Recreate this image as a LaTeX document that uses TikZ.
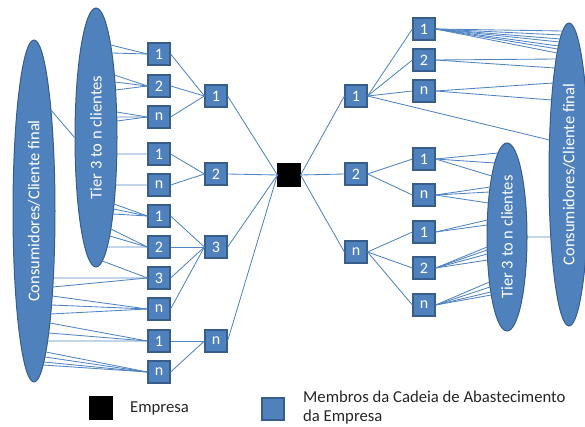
\documentclass[tikz,border=0pt]{standalone}
\usepackage{fontspec}
\setmainfont{Carlito}
\usetikzlibrary{shapes.geometric}
\definecolor{cellfill}{RGB}{79,129,189}
\definecolor{celledge}{RGB}{56,93,138}
\definecolor{wirec}{RGB}{80,132,195}
% spokes from the right-hand rim of ellipse #1 (radii #2, #3) to node #4,
% one for each vertical offset (downwards from the centre) in #5
\newcommand\spokesR[5]{\foreach \d in {#5}{\draw[wire] (#1.center) ++({asin(\d/#3)}:#2 and #3) -- (#4.west);}}
% the same, from the left-hand rim to the east side of node #4
\newcommand\spokesL[5]{\foreach \d in {#5}{\draw[wire] (#1.center) ++({180-asin(\d/#3)}:#2 and #3) -- (#4.east);}}
\begin{document}
\begin{tikzpicture}[x=1pt,y=-1pt,
  cell/.style={rectangle,draw=celledge,fill=cellfill,line width=1.2pt,minimum size=22pt,inner sep=0pt,
    text=white,font=\fontsize{16}{18}\selectfont},
  oval/.style={ellipse,draw=celledge,fill=cellfill,line width=1pt,inner sep=0pt},
  ovaltext/.style={rotate=90,text=white,font=\fontsize{16.5}{19}\selectfont},
  wire/.style={draw=wirec,line width=0.85pt},
  legend/.style={font=\fontsize{16.7}{19}\selectfont,text=black!85}]
\useasboundingbox (0,0) rectangle (585,427);

% ---- customer groups
\node[oval,minimum width=42pt,minimum height=342pt] (consL) at (34,211) {};
\node[ovaltext] (consLt) at (consL.center) {Consumidores/Cliente final};
\node[oval,minimum width=42pt,minimum height=259pt] (tierL) at (96,137.5) {};
\node[ovaltext] (tierLt) at (tierL.center) {Tier 3 to n clientes};
\node[oval,minimum width=40pt,minimum height=303pt] (consR) at (569,174.5) {};
\node[ovaltext] (consRt) at (consR.center) {Consumidores/Cliente final};
\node[oval,minimum width=40pt,minimum height=188pt] (tierR) at (507,237) {};
\node[ovaltext] (tierRt) at (tierR.center) {Tier 3 to n clientes};

% ---- left-hand tier of members
\node[cell] (la1) at (159,54) {1};
\node[cell] (la2) at (159,86) {2};
\node[cell] (la3) at (159,117) {n};
\node[cell] (la4) at (159,154) {1};
\node[cell] (la5) at (159,185) {n};
\node[cell] (la6) at (159,216) {1};
\node[cell] (la7) at (159,247) {2};
\node[cell] (la8) at (159,278) {3};
\node[cell] (la9) at (159,309) {n};
\node[cell] (la10) at (159,341) {1};
\node[cell] (la11) at (159,372) {n};

\node[cell] (l21) at (216,96) {1};
\node[cell] (l22) at (216,174) {2};
\node[cell] (l23) at (216,247) {3};
\node[cell] (l2n) at (216,341) {n};

% ---- the company
\node[cell,fill=black,draw=black] (emp) at (289,175) {};

% ---- right-hand tier of members
\node[cell] (r21) at (356,96) {1};
\node[cell] (r22) at (356,174) {2};
\node[cell] (r2n) at (356,252) {n};

\node[cell] (r3a) at (424,29) {1};
\node[cell] (r3b) at (424,60) {2};
\node[cell] (r3c) at (424,91) {n};
\node[cell] (r3d) at (424,159) {1};
\node[cell] (r3e) at (424,195) {n};
\node[cell] (r3f) at (424,232) {1};
\node[cell] (r3g) at (424,268) {2};
\node[cell] (r3h) at (424,305) {n};

% ---- links between members
\foreach \a in {la1,la2,la3} \draw[wire] (\a.east) -- (l21.west);
\foreach \a in {la4,la5} \draw[wire] (\a.east) -- (l22.west);
\foreach \a in {la6,la7,la8,la9} \draw[wire] (\a.east) -- (l23.west);
\foreach \a in {la10,la11} \draw[wire] (\a.east) -- (l2n.west);
\foreach \a in {l21,l22,l23,l2n} \draw[wire] (\a.east) -- (emp.west);
\foreach \a in {r21,r22,r2n} \draw[wire] (emp.east) -- (\a.west);
\foreach \a in {r3a,r3b,r3c} \draw[wire] (r21.east) -- (\a.west);
\foreach \a in {r3d,r3e} \draw[wire] (r22.east) -- (\a.west);
\foreach \a in {r3f,r3g,r3h} \draw[wire] (r2n.east) -- (\a.west);

% ---- links to the customer groups, left
\draw[wire] (consL.center) ++({asin(-101/171)}:21 and 171) -- (tierL.west);
\spokesR{tierL}{21}{129.5}{la1}{-92.5,-84.5}
\spokesR{tierL}{21}{129.5}{la2}{-62.5,-55.5,-47.5}
\spokesR{tierL}{21}{129.5}{la3}{-25.5,-20.5,-16.5}
\spokesR{tierL}{21}{129.5}{la4}{16.5}
\spokesR{tierL}{21}{129.5}{la5}{47.5}
\spokesR{tierL}{21}{129.5}{la6}{66.5,71.5,76.5}
\spokesR{tierL}{21}{129.5}{la7}{91.5,98.5,109.5}
\spokesR{tierL}{21}{129.5}{la8}{123.5}
\spokesR{consL}{21}{171}{la8}{67,76}
\spokesR{consL}{21}{171}{la9}{85,94,103}
\spokesR{consL}{21}{171}{la10}{112,122,130}
\spokesR{consL}{21}{171}{la11}{141,146,151,154}

% ---- links to the customer groups, right
\draw[wire] (consR.center) ++({180-asin(62.5/151.5)}:20 and 151.5) -- (tierR.east);
\spokesL{consR}{20}{151.5}{r3a}{-143.5,-139.5,-135.5,-132.5,-128.5,-125.5,-121.5}
\spokesL{consR}{20}{151.5}{r3b}{-115.5,-106.5}
\spokesL{consR}{20}{151.5}{r3c}{-91.5,-74.5}
\spokesL{consR}{20}{151.5}{r21}{-34.5}
\spokesL{tierR}{20}{94}{r3d}{-84,-74,-61}
\spokesL{tierR}{20}{94}{r3e}{-50,-45,-34}
\spokesL{tierR}{20}{94}{r3f}{-17,-12}
\spokesL{tierR}{20}{94}{r3g}{10,13,17,23}
\spokesL{tierR}{20}{94}{r3h}{45,50,55,58}

% ---- key
\node[cell,fill=black,draw=black] (keyE) at (101,408) {};
\node[legend,anchor=west,inner sep=0pt] (keyEt) at (130,408) {Empresa};
\node[cell] (keyM) at (273,409) {};
\node[legend,anchor=west,inner sep=0pt,align=left] (keyMt) at (303,408) {Membros da Cadeia de Abastecimento\\da Empresa};
\end{tikzpicture}
\end{document}
